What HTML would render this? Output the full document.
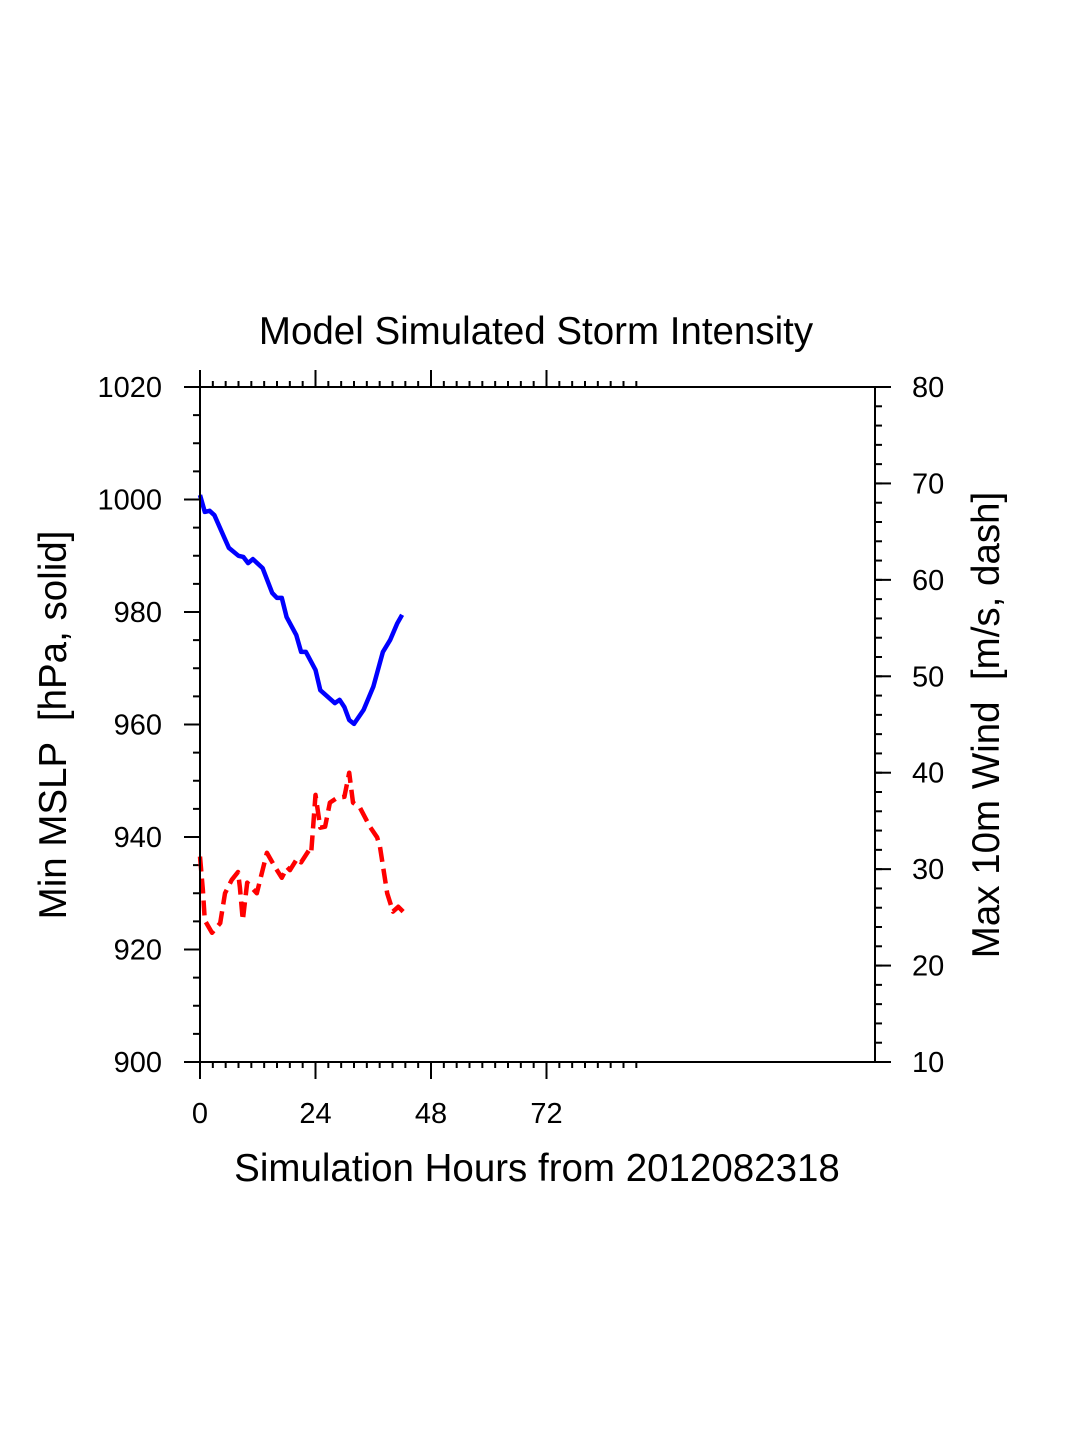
<!DOCTYPE html>
<html><head><meta charset="utf-8"><style>
html,body{margin:0;padding:0;background:#fff;}
svg{display:block;font-family:"Liberation Sans",sans-serif;}
</style></head><body>
<svg id="chart" width="1075" height="1450" viewBox="0 0 1075 1450" xmlns="http://www.w3.org/2000/svg">
<rect width="1075" height="1450" fill="#fff"/>
<text x="536" y="344" font-size="38.5" text-anchor="middle">Model Simulated Storm Intensity</text>
<g id="ticks"></g>
<g id="series"></g>
<rect x="200" y="387" width="675" height="675" fill="none" stroke="#000" stroke-width="2"/>
<text x="537" y="1181" font-size="38.5" text-anchor="middle">Simulation Hours from 2012082318</text>
<text transform="translate(66,725) rotate(-90)" font-size="38.5" text-anchor="middle" xml:space="preserve">Min MSLP  [hPa, solid]</text>
<text transform="translate(999,725) rotate(-90)" font-size="38.5" text-anchor="middle" xml:space="preserve">Max 10m Wind  [m/s, dash]</text>
</svg>
<script>
const xTicks=[0,24,48,72];
const pTicks=[900,920,940,960,980,1000,1020];
const wTicks=[10,20,30,40,50,60,70,80];
const pHours=[0,1,2,3,5,6,8,9,10,11,13,15,16,17,18,20,21,22,24,25,28,29,30,31,32,34,36,38,39.5,41,42];
const pValues=[1000.8,997.8,998.0,997.2,993.3,991.4,990.0,989.8,988.7,989.4,987.8,983.4,982.5,982.5,979.1,975.9,972.9,972.9,969.7,966.1,963.8,964.4,963.1,960.8,960.1,962.6,966.7,972.9,975.0,978.0,979.5];
const wHours=[0,0.6,1,2.5,4.2,5.2,6.6,7.9,8.3,8.9,9.8,11.8,13.9,15.6,17.0,18.1,18.7,20.2,21.0,22.7,23.1,24.0,25.0,26.0,27.0,28.5,30.0,31.0,31.8,33.2,35.3,36.8,37.4,38.9,40.1,41.2,42.2];
const wValues=[31.3,27.8,24.7,23.4,24.4,27.5,28.9,29.7,28.1,24.7,28.6,27.5,31.7,30.2,29.1,30.2,29.9,31.1,30.7,32.0,31.7,37.7,34.3,34.4,36.9,37.4,37.5,40.0,36.9,36.4,34.4,33.3,32.3,27.5,25.6,26.1,25.6];
const L=200,R=875,T=387,B=1062;
const xS=h=>L+h*(115.5/24);
const pS=p=>B-(p-900)*(B-T)/120;
const wS=w=>B-(w-10)*(B-T)/70;
const NS="http://www.w3.org/2000/svg";
const tg=document.getElementById('ticks'), sg=document.getElementById('series');
function ln(x1,y1,x2,y2,name){const e=document.createElementNS(NS,'line');
e.setAttribute('x1',x1);e.setAttribute('y1',y1);e.setAttribute('x2',x2);e.setAttribute('y2',y2);
e.setAttribute('stroke','#000');e.setAttribute('stroke-width','2');


tg.appendChild(e);}
function tx(x,y,s,anchor,name){const e=document.createElementNS(NS,'text');
e.setAttribute('x',x);e.setAttribute('y',y);e.setAttribute('font-size','29');e.setAttribute('text-anchor',anchor);e.textContent=s;


tg.appendChild(e);}
const mstep=24/9;
for(let i=0;i*mstep<=91;i++){const x=xS(i*mstep);ln(x,T,x,T-6,'x-minor-tick');ln(x,B,x,B+6,'x-minor-tick');}
xTicks.forEach(h=>{const x=xS(h);ln(x,T,x,T-17,'x-major-tick');ln(x,B,x,B+17,'x-major-tick');tx(x,1123,String(h),'middle','x-tick-label');});
for(let p=900;p<=1020;p+=5){ln(L,pS(p),L-7,pS(p),'left-minor-tick');}
pTicks.forEach(p=>{ln(L,pS(p),L-16,pS(p),'left-major-tick');tx(162,pS(p)+10,String(p),'end','left-tick-label');});
for(let w=10;w<=80;w+=2){ln(R,wS(w),R+7,wS(w),'right-minor-tick');}
wTicks.forEach(w=>{ln(R,wS(w),R+16,wS(w),'right-major-tick');tx(912,wS(w)+10,String(w),'start','right-tick-label');});
function path(hs,vs,sc,color,dash,name){const e=document.createElementNS(NS,'path');
e.setAttribute('d',hs.map((h,i)=>(i?'L':'M')+xS(h).toFixed(1)+','+sc(vs[i]).toFixed(1)).join(''));
e.setAttribute('fill','none');e.setAttribute('stroke',color);e.setAttribute('stroke-width','4.5');e.setAttribute('stroke-linejoin','round');
if(dash)e.setAttribute('stroke-dasharray',dash);


sg.appendChild(e);}
path(pHours,pValues,pS,'#0000ff',null,'mslp-line');
path(wHours,wValues,wS,'#ff0000','15 7','wind-line');
</script>
</body></html>
